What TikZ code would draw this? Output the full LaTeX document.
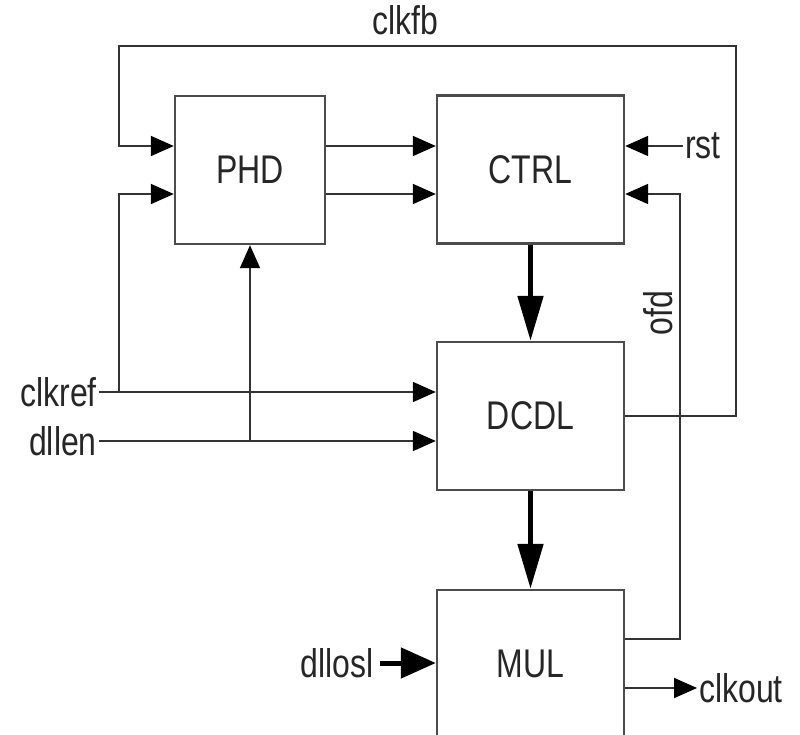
\documentclass[tikz,border=0pt]{standalone}
\usepackage{fontspec}
\setmainfont[FakeStretch=0.8]{Liberation Sans}
\usetikzlibrary{arrows.meta}
\begin{document}
\begin{tikzpicture}[x=1pt,y=-1pt,
  blk/.style={draw=black!70, line width=2.4pt, fill=white, minimum width=187pt, minimum height=148pt, inner sep=0pt, font=\fontsize{40}{42}\selectfont, text=black!85},
  lbl/.style={font=\fontsize{40}{42}\selectfont, text=black!85, inner sep=2pt},
  arr/.style={draw=black!80, line width=1.8pt, -{Triangle[length=23pt,width=20pt,color=black]}},
  thk/.style={draw=black, line width=5pt, -{Triangle[length=45pt,width=25pt]}},
  thkb/.style={draw=black, line width=5pt, -{Triangle[length=35pt,width=30pt]}},
  ln/.style={draw=black!80, line width=1.8pt}]
\useasboundingbox (0,0) rectangle (800,735);
\clip (0,0) rectangle (800,735);
\fill[white] (0,0) rectangle (800,735);
% blocks
\node[blk, minimum width=150pt] (PHD) at (250,170) {PHD};
\node[blk] (CTRL) at (530.5,169.5) {CTRL};
\node[blk] (DCDL) at (530.5,416) {DCDL};
\node[blk] (MUL) at (530.5,664) {MUL};
% helper coordinates
\coordinate (y1) at (0,146);
\coordinate (y2) at (0,194);
\coordinate (y4) at (0,639);
\coordinate (fbL) at (119,46);
\coordinate (fbR) at (736,46);
\coordinate (ofdc) at (680,194);
% labels
\node[lbl] (clkfb) at (405,20) {clkfb};
\node[lbl, anchor=east] (clkref) at (99,392) {clkref};
\node[lbl, anchor=east] (dllen) at (99,441) {dllen};
\node[lbl, anchor=west] (rst) at (683,146) {rst};
\node[lbl, rotate=90] (ofd) at (658,313) {ofd};
\node[lbl, anchor=east, inner sep=6pt] (dllosl) at (380,663) {dllosl};
\node[lbl, anchor=west] (clkout) at (697,688) {clkout};
% PHD -> CTRL
\draw[arr] (PHD.east |- y1) -- (CTRL.west |- y1);
\draw[arr] (PHD.east |- y2) -- (CTRL.west |- y2);
% feedback clkfb
\draw[arr] (DCDL.east) -| (fbR) -- (fbL) |- (PHD.west |- y1);
% clkref
\draw[arr] (clkref.east) -- (clkref.east -| DCDL.west);
\draw[arr] (clkref.east -| fbL) |- (PHD.west |- y2);
% dllen
\draw[arr] (dllen.east) -- (dllen.east -| DCDL.west);
\draw[arr] (dllen.east -| PHD.south) -- (PHD.south);
% rst
\draw[arr] (rst.west) -- (CTRL.east |- rst.west);
% ofd
\draw[arr] (MUL.east |- y4) -| (ofdc) -- (CTRL.east |- y2);
% thick
\draw[thk] (CTRL.south) -- (DCDL.north);
\draw[thk] (DCDL.south) -- (MUL.north);
\draw[thkb] (dllosl.east) -- (dllosl.east -| MUL.west);
% clkout
\draw[arr] (MUL.east |- clkout.west) -- (clkout.west);
\end{tikzpicture}
\end{document}
